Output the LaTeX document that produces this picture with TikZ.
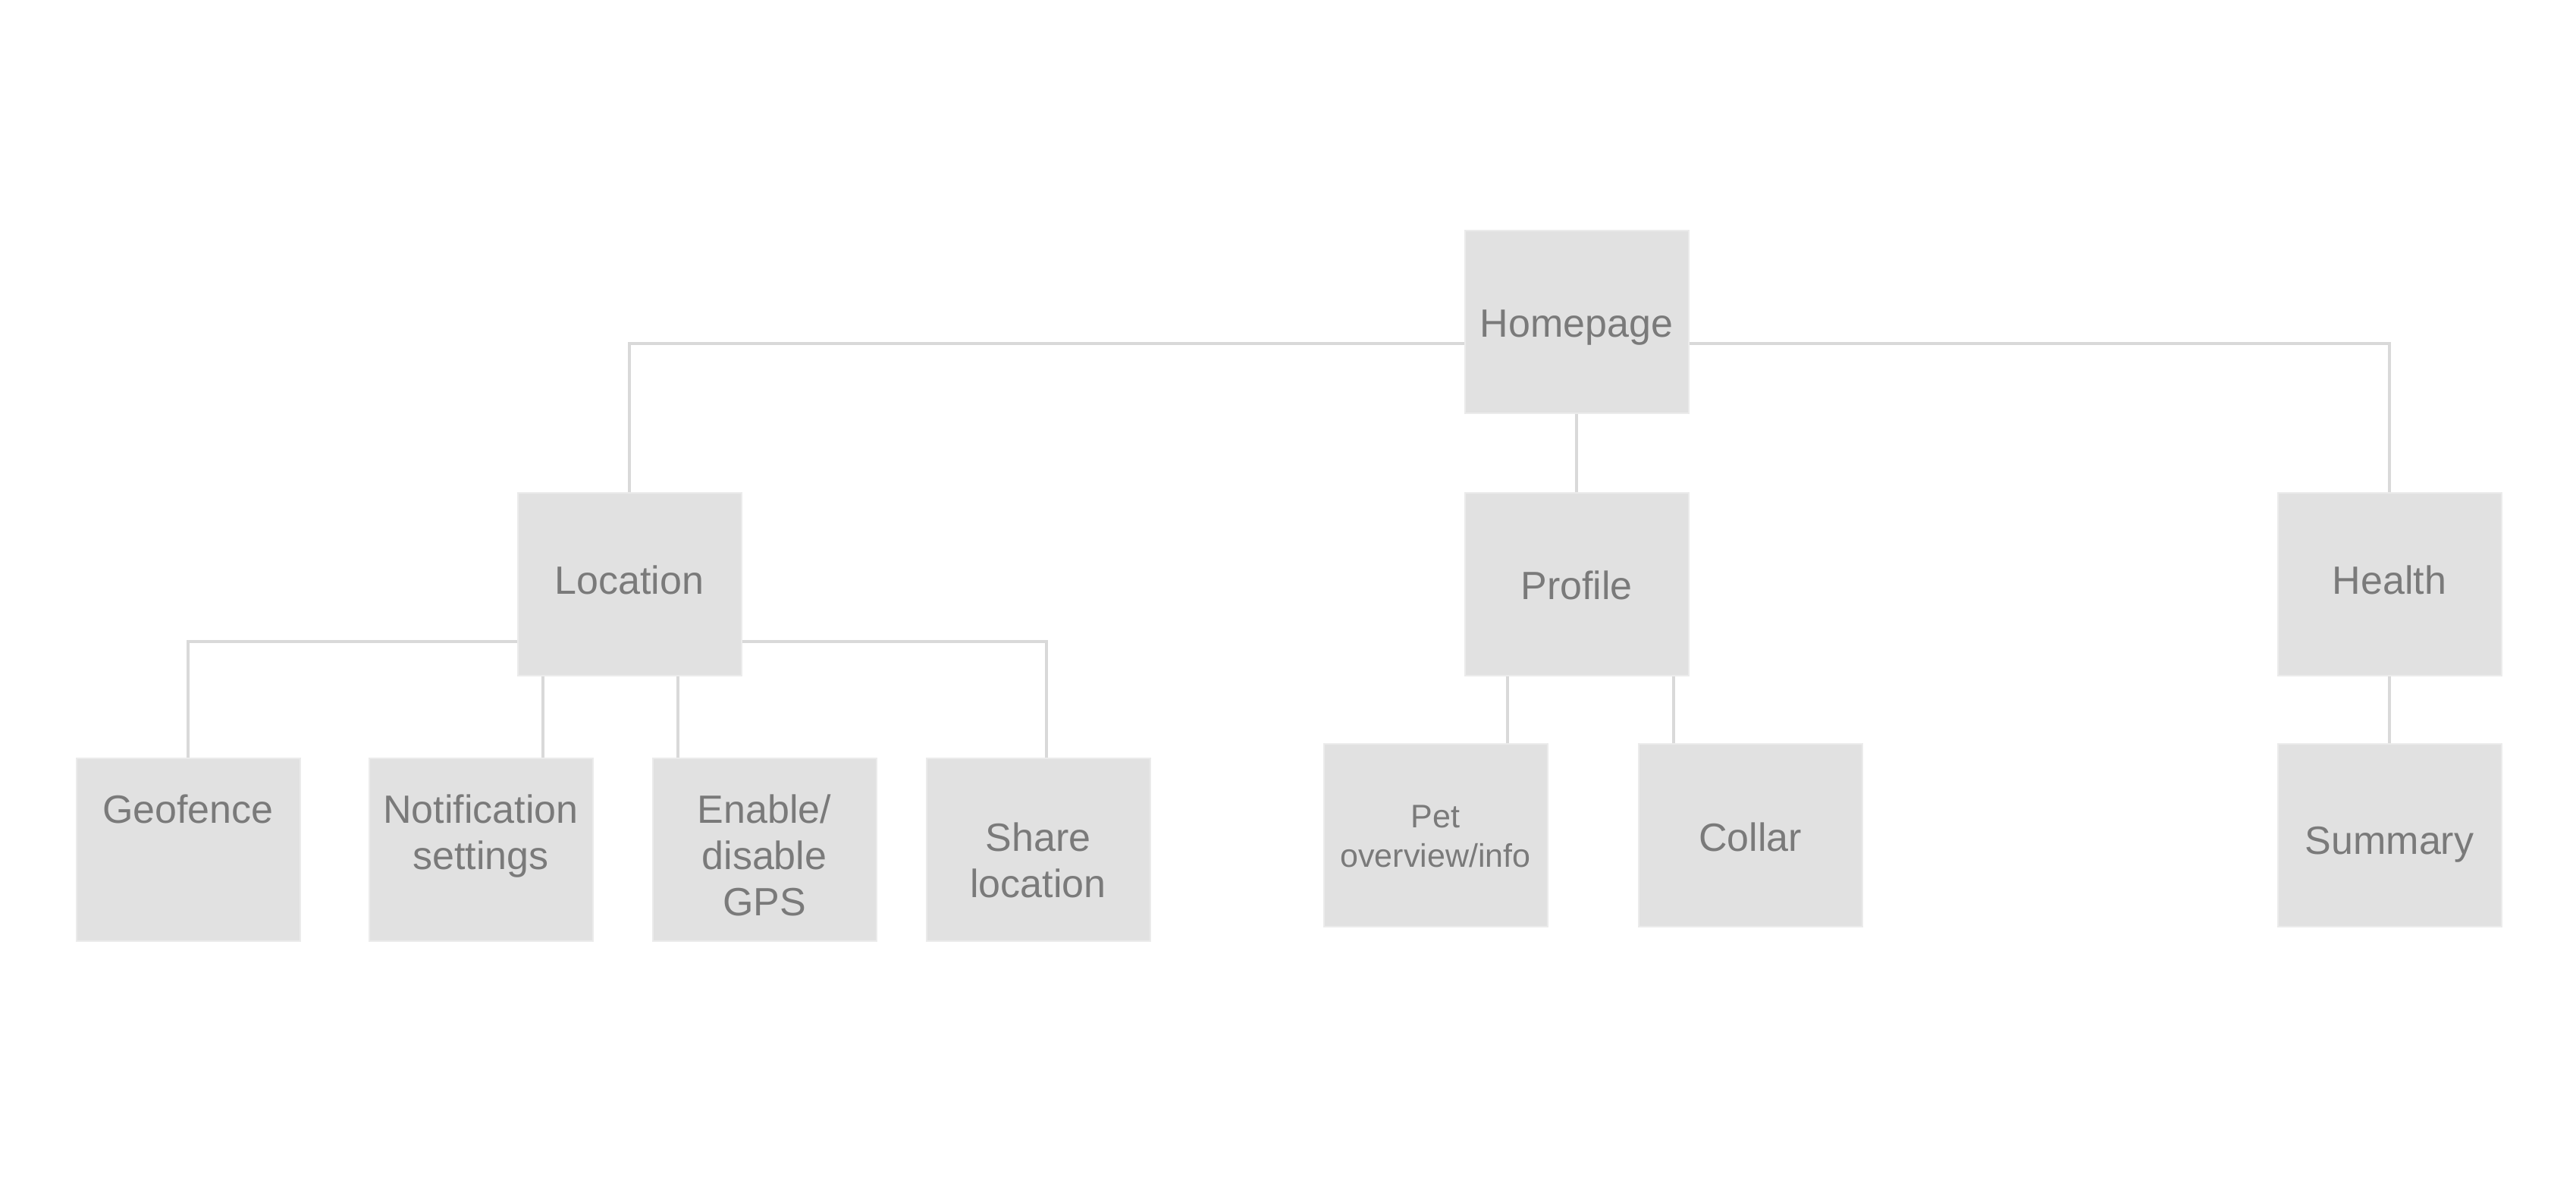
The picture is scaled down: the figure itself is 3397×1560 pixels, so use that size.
\documentclass[tikz,border=0pt]{standalone}
\usepackage{fontspec}
\setmainfont{Liberation Sans}
\usetikzlibrary{backgrounds}
\definecolor{boxfill}{HTML}{E1E1E1}
\definecolor{boxedge}{HTML}{EBEBEB}
\definecolor{linkcol}{HTML}{D9D9D9}
\definecolor{txtcol}{HTML}{7A7A7A}
\begin{document}
\begin{tikzpicture}[x=1pt,y=-1pt,
  pagebox/.style={fill=boxfill,draw=boxedge,line width=2pt,minimum width=295pt,minimum height=241pt,inner sep=0pt,outer sep=0pt},
  lbl/.style={anchor=base,text=txtcol,inner sep=0pt,font=\fontsize{52}{61}\selectfont},
  smalllbl/.style={anchor=base,text=txtcol,inner sep=0pt,font=\fontsize{43}{52}\selectfont},
  link/.style={draw=linkcol,line width=3.5pt}]
\useasboundingbox (0,0) rectangle (3397,1560);
% boxes
\node[pagebox] (home) at (2079,424) {};
\node[pagebox] (loc) at (830,770) {};
\node[pagebox] (prof) at (2079,770) {};
\node[pagebox] (health) at (3151,770) {};
\node[pagebox] (geo) at (248,1120) {};
\node[pagebox] (notif) at (634,1120) {};
\node[pagebox] (gps) at (1008,1120) {};
\node[pagebox] (share) at (1369,1120) {};
\node[pagebox] (pet) at (1893,1101) {};
\node[pagebox] (collar) at (2308,1101) {};
\node[pagebox] (summary) at (3151,1101) {};
% texts
\node[lbl] (thome) at (2079,444) {Homepage};
\node[lbl] (tloc) at (830,783) {Location};
\node[lbl] (tprof) at (2079,790) {Profile};
\node[lbl] (thealth) at (3151,783) {Health};
\node[lbl] (tgeo) at (248,1085) {Geofence};
\node[lbl] (tnotif) at (634,1085) {\begin{tabular}[t]{@{}c@{}}Notification\\settings\end{tabular}};
\node[lbl] (tgps) at (1008,1085) {\begin{tabular}[t]{@{}c@{}}Enable/\\disable\\GPS\end{tabular}};
\node[lbl] (tshare) at (1369,1122) {\begin{tabular}[t]{@{}c@{}}Share\\location\end{tabular}};
\node[smalllbl] (tpet) at (1893,1091) {\begin{tabular}[t]{@{}c@{}}Pet\\overview/info\end{tabular}};
\node[lbl] (tcollar) at (2308,1122) {Collar};
\node[lbl] (tsummary) at (3151,1126) {Summary};
% connector helper coordinates
\coordinate (bustop) at (2079,453);
\coordinate (busloc) at (830,846);
\coordinate (xnotif) at (716,0);
\coordinate (xgps) at (894,0);
\coordinate (xshare) at (1380,0);
\coordinate (xpet) at (1988,0);
\coordinate (xcollar) at (2207,0);
\begin{scope}[on background layer]
\fill[white] (0,0) rectangle (3397,1560);
\draw[link] (loc.north) |- (bustop) -| (health.north);
\draw[link] (home.south) -- (prof.north);
\draw[link] (geo.north) |- (busloc) -| (share.north -| xshare);
\draw[link] (loc.south -| xnotif) -- (notif.north -| xnotif);
\draw[link] (loc.south -| xgps) -- (gps.north -| xgps);
\draw[link] (prof.south -| xpet) -- (pet.north -| xpet);
\draw[link] (prof.south -| xcollar) -- (collar.north -| xcollar);
\draw[link] (health.south) -- (summary.north);
\end{scope}
\end{tikzpicture}
\end{document}
